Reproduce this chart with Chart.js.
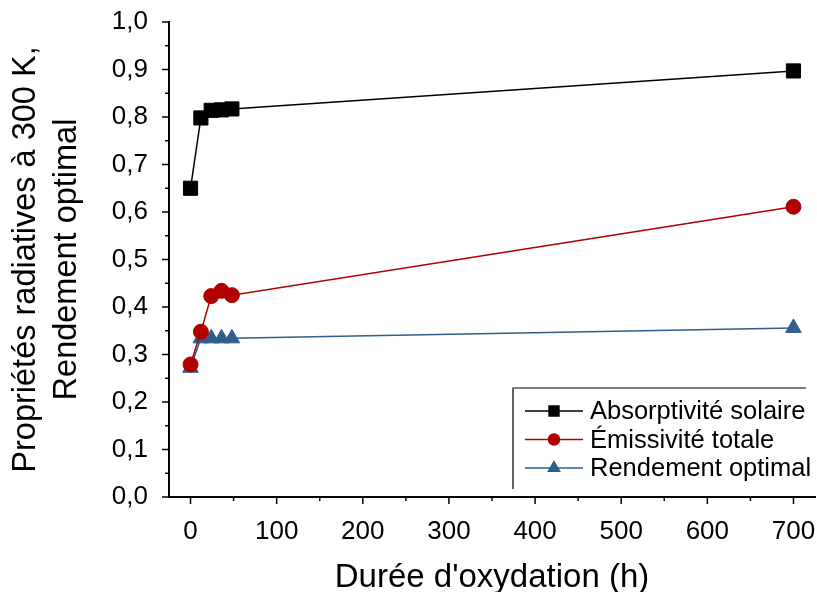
<!DOCTYPE html>
<html>
<head>
<meta charset="utf-8">
<script src="https://cdn.jsdelivr.net/npm/chart.js@4/dist/chart.umd.min.js"></script>
<style>
  html, body { margin: 0; padding: 0; background: #fff; }
  #wrap { width: 817px; height: 592px; }
</style>
</head>
<body>
<div id="wrap"><canvas id="c" width="817" height="592"></canvas></div>
<script>
// durée d'oxydation (h)
const hours = [0, 12, 24, 36, 48, 700];
const absorptivite = [0.650, 0.798, 0.814, 0.815, 0.817, 0.897];
const emissivite = [0.279, 0.348, 0.423, 0.434, 0.425, 0.611];
const rendement = [0.272, 0.334, 0.334, 0.334, 0.334, 0.356];

const seriesNames = ['Absorptivité solaire', 'Émissivité totale', 'Rendement optimal'];
const xTicks = [0, 100, 200, 300, 400, 500, 600, 700];
const yTicks = [0, 0.1, 0.2, 0.3, 0.4, 0.5, 0.6, 0.7, 0.8, 0.9, 1.0];

const FONT = "'Liberation Sans', Arial, sans-serif";
const colors = ['#000000', '#b00000', '#2f5f8c'];
const styles = ['rect', 'circle', 'triangle'];
const radii = [10, 7.5, 9];

const toPts = arr => hours.map((h, i) => ({ x: h, y: arr[i] }));

// minor/major ticks, drawn outward from the axes
const tickPlugin = {
  id: 'ticks',
  afterDraw(chart) {
    const ctx = chart.ctx;
    const xs = chart.scales.x, ys = chart.scales.y;
    const area = chart.chartArea;
    ctx.save();
    ctx.strokeStyle = '#000';
    ctx.lineWidth = 1.5;
    for (let v = 0; v <= 725; v += 50) {
      const px = xs.getPixelForValue(v);
      const len = (v % 100 === 0) ? 7 : 4;
      ctx.beginPath();
      ctx.moveTo(px, area.bottom);
      ctx.lineTo(px, area.bottom + len);
      ctx.stroke();
    }
    for (let k = 0; k <= 20; k++) {
      const py = ys.getPixelForValue(k * 0.05);
      const len = (k % 2 === 0) ? 7 : 4;
      ctx.beginPath();
      ctx.moveTo(area.left, py);
      ctx.lineTo(area.left - len, py);
      ctx.stroke();
    }
    ctx.restore();
  }
};

// legend box with top and left frame lines
const legendPlugin = {
  id: 'boxLegend',
  afterDraw(chart) {
    const ctx = chart.ctx;
    const left = 513, top = 388, bottom = chart.chartArea.bottom - 8, right = 806;
    ctx.save();
    ctx.strokeStyle = '#000';
    ctx.lineWidth = 1.2;
    ctx.beginPath();
    ctx.moveTo(left, bottom);
    ctx.lineTo(left, top);
    ctx.lineTo(right, top);
    ctx.stroke();
    ctx.font = '25.5px ' + FONT;
    ctx.textBaseline = 'middle';
    ctx.textAlign = 'left';
    seriesNames.forEach((name, i) => {
      const y = 411 + i * 28.5;
      ctx.strokeStyle = colors[i];
      ctx.lineWidth = 1.5;
      ctx.beginPath();
      ctx.moveTo(525, y);
      ctx.lineTo(583, y);
      ctx.stroke();
      ctx.fillStyle = colors[i];
      ctx.strokeStyle = colors[i];
      Chart.helpers.drawPoint(ctx, { pointStyle: styles[i], radius: [7, 5.5, 6.5][i], borderWidth: 1 }, 554, y);
      ctx.fillStyle = '#000';
      ctx.fillText(name, 590, y + 1);
    });
    ctx.restore();
  }
};

const datasets = [absorptivite, emissivite, rendement].map((arr, i) => ({
  label: seriesNames[i],
  data: toPts(arr),
  borderColor: colors[i],
  backgroundColor: colors[i],
  borderWidth: 1.5,
  pointStyle: styles[i],
  pointRadius: radii[i],
  pointBorderWidth: 1,
  pointBackgroundColor: colors[i],
  pointBorderColor: colors[i],
  tension: 0,
  order: i
}));

new Chart(document.getElementById('c'), {
  type: 'line',
  data: { datasets },
  options: {
    responsive: false,
    animation: false,
    layout: { autoPadding: false, padding: { top: 22, right: 2, left: 0, bottom: 0 } },
    plugins: {
      legend: { display: false },
      tooltip: { enabled: false }
    },
    scales: {
      x: {
        type: 'linear',
        min: -25,
        max: 725,
        afterBuildTicks: s => { s.ticks = xTicks.map(v => ({ value: v })); },
        afterFit: s => { s.height = 95; s.paddingLeft = 0; s.paddingRight = 0; },
        grid: { display: false },
        border: { display: true, color: '#000', width: 2 },
        ticks: {
          color: '#000',
          padding: 11,
          maxRotation: 0,
          font: { family: FONT, size: 26 }
        },
        title: {
          display: true,
          text: "Durée d'oxydation (h)",
          color: '#000',
          font: { family: FONT, size: 33, lineHeight: 0.85 },
          padding: { top: 4, bottom: 0 }
        }
      },
      y: {
        type: 'linear',
        min: 0,
        max: 1.0,
        afterBuildTicks: s => { s.ticks = yTicks.map(v => ({ value: v })); },
        afterFit: s => { s.width = 169; s.paddingTop = 0; s.paddingBottom = 0; },
        grid: { display: false },
        border: { display: true, color: '#000', width: 2 },
        ticks: {
          color: '#000',
          padding: 13,
          font: { family: FONT, size: 26 },
          callback: v => v.toFixed(1).replace('.', ',')
        },
        title: {
          display: true,
          text: ['Propriétés radiatives à 300 K,', 'Rendement optimal'],
          color: '#000',
          font: { family: FONT, size: 32.5, lineHeight: 1.25 },
          padding: { bottom: 0, top: 6 }
        }
      }
    }
  },
  plugins: [tickPlugin, legendPlugin]
});
</script>
</body>
</html>
